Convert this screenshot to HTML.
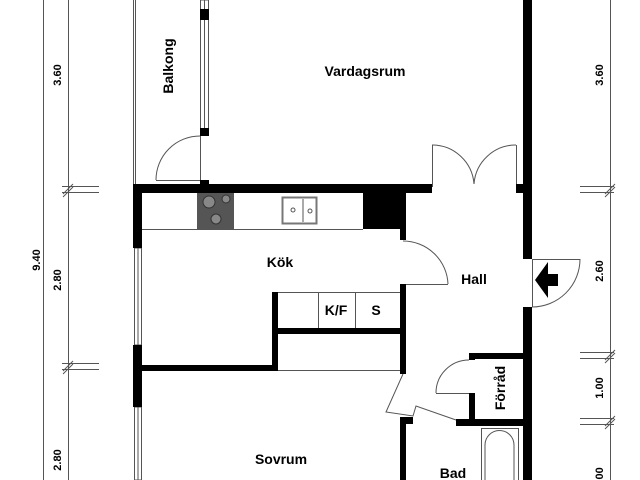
<!DOCTYPE html>
<html><head><meta charset="utf-8"><style>
html,body{margin:0;padding:0;background:#fff;}
svg{display:block}
text{font-family:"Liberation Sans",sans-serif;font-weight:bold;fill:#000}
</style></head><body>
<svg width="640" height="480" viewBox="0 0 640 480" xmlns="http://www.w3.org/2000/svg">
<g stroke="#555" stroke-width="1" fill="none">
<line x1="43.5" y1="0" x2="43.5" y2="480"/>
<line x1="68.5" y1="0" x2="68.5" y2="480"/>
<line x1="62" y1="186.5" x2="99" y2="186.5"/><line x1="62" y1="192.5" x2="99" y2="192.5"/>
<line x1="62" y1="363.5" x2="99" y2="363.5"/><line x1="62" y1="369.5" x2="99" y2="369.5"/>
<line x1="63" y1="194" x2="73" y2="184"/><line x1="63" y1="197" x2="73" y2="187"/>
<line x1="63" y1="371" x2="73" y2="361"/><line x1="63" y1="374" x2="73" y2="364"/>
<line x1="610.5" y1="0" x2="610.5" y2="480"/>
<line x1="580" y1="186.5" x2="614" y2="186.5"/><line x1="580" y1="192.5" x2="614" y2="192.5"/>
<line x1="580" y1="352.5" x2="614" y2="352.5"/><line x1="580" y1="358.5" x2="614" y2="358.5"/>
<line x1="580" y1="418.5" x2="614" y2="418.5"/><line x1="580" y1="424.5" x2="614" y2="424.5"/>
<line x1="605" y1="194" x2="615" y2="184"/><line x1="605" y1="197" x2="615" y2="187"/>
<line x1="605" y1="360" x2="615" y2="350"/><line x1="605" y1="363" x2="615" y2="353"/>
<line x1="605" y1="426" x2="615" y2="416"/><line x1="605" y1="429" x2="615" y2="419"/>
<line x1="133.5" y1="0" x2="133.5" y2="184"/><line x1="135.5" y1="0" x2="135.5" y2="184"/>
<rect x="200.5" y="0" width="8" height="135"/><line x1="204.5" y1="0" x2="204.5" y2="135"/>
<line x1="156" y1="180.5" x2="200" y2="180.5"/><line x1="200.5" y1="136" x2="200.5" y2="181"/>
<path d="M156,180 A44,44 0 0 1 200,136"/>
<rect x="134.5" y="248" width="7" height="97"/><line x1="138" y1="248" x2="138" y2="345"/>
<rect x="134.5" y="407" width="7" height="73"/><line x1="138" y1="407" x2="138" y2="480"/>
<line x1="142" y1="229.5" x2="363" y2="229.5"/>
<rect x="282.5" y="197.5" width="34" height="26" stroke="#777" stroke-width="2"/>
<line x1="303" y1="199" x2="303" y2="222"/>
<circle cx="293" cy="210" r="2"/><circle cx="310" cy="211" r="2"/>
<line x1="277" y1="292.5" x2="400" y2="292.5"/>
<line x1="318.5" y1="292" x2="318.5" y2="328"/><line x1="355.5" y1="292" x2="355.5" y2="328"/>
<line x1="277" y1="370.5" x2="400" y2="370.5"/>
<line x1="400" y1="284.5" x2="448" y2="284.5"/><path d="M403,241 A45,45 0 0 1 448,284"/>
<line x1="432.5" y1="145" x2="432.5" y2="187"/><line x1="516.5" y1="145" x2="516.5" y2="187"/>
<path d="M432,145 A42,42 0 0 1 474,184"/><path d="M516,145 A42,42 0 0 0 474,184"/>
<line x1="532" y1="259.5" x2="580" y2="259.5"/><line x1="532.5" y1="259" x2="532.5" y2="307"/>
<path d="M580,259 A48,48 0 0 1 532,307"/>
<line x1="436" y1="393.5" x2="469" y2="393.5"/><path d="M436,393 A33,33 0 0 1 469,360"/>
<polyline points="403,374 386,412 413,416 416,406 456,420"/>
<rect x="481.5" y="428.5" width="37" height="60"/>
<path d="M485,480 V445 A14,14 0 0 1 514,445 V480"/>
</g>
<g fill="#000">
<rect x="200" y="9" width="9" height="11"/><rect x="200" y="128" width="9" height="8"/>
<rect x="200" y="180" width="9" height="8"/>
<rect x="133" y="184" width="299" height="9"/>
<rect x="133" y="184" width="9" height="64"/>
<rect x="133" y="345" width="9" height="62"/>
<rect x="363" y="193" width="43" height="36"/>
<rect x="400" y="184" width="6" height="56"/>
<rect x="400" y="284" width="6" height="90"/>
<rect x="272" y="292" width="6" height="79"/>
<rect x="277" y="328" width="123" height="6"/>
<rect x="142" y="365" width="136" height="6"/>
<rect x="516" y="184" width="16" height="9"/>
<rect x="523" y="0" width="9" height="259"/>
<rect x="523" y="307" width="9" height="173"/>
<rect x="469" y="353" width="54" height="6"/>
<rect x="469" y="353" width="6" height="7"/>
<rect x="469" y="393" width="6" height="27"/>
<rect x="456" y="419" width="67" height="7"/>
<rect x="400" y="417" width="6" height="63"/><rect x="400" y="417" width="13" height="7"/>
<polygon points="535,280 548,262 548,274 558,274 558,286 548,286 548,298"/>
</g>
<rect x="197" y="193" width="37" height="36" fill="#555"/>
<g fill="#888" stroke="#333" stroke-width="1">
<circle cx="209" cy="202" r="6"/><circle cx="226" cy="199" r="4"/><circle cx="216" cy="219" r="5"/>
</g>
<text x="365" y="76" font-size="14" text-anchor="middle">Vardagsrum</text>
<text x="280" y="267" font-size="14" text-anchor="middle">Kök</text>
<text x="474" y="284" font-size="14" text-anchor="middle">Hall</text>
<text x="336" y="315" font-size="14" text-anchor="middle">K/F</text>
<text x="376" y="315" font-size="14" text-anchor="middle">S</text>
<text x="281" y="464" font-size="14" text-anchor="middle">Sovrum</text>
<text x="453" y="478" font-size="14" text-anchor="middle">Bad</text>
<text transform="translate(173,66) rotate(-90)" font-size="14" text-anchor="middle">Balkong</text>
<text transform="translate(505,388) rotate(-90)" font-size="14" text-anchor="middle">Förråd</text>
<text transform="translate(40,260) rotate(-90)" font-size="11" text-anchor="middle">9.40</text>
<text transform="translate(61,75) rotate(-90)" font-size="11" text-anchor="middle">3.60</text>
<text transform="translate(61,280) rotate(-90)" font-size="11" text-anchor="middle">2.80</text>
<text transform="translate(61,460) rotate(-90)" font-size="11" text-anchor="middle">2.80</text>
<text transform="translate(603,75) rotate(-90)" font-size="11" text-anchor="middle">3.60</text>
<text transform="translate(603,271) rotate(-90)" font-size="11" text-anchor="middle">2.60</text>
<text transform="translate(603,388) rotate(-90)" font-size="11" text-anchor="middle">1.00</text>
<text transform="translate(603,478) rotate(-90)" font-size="11" text-anchor="middle">2.00</text>
</svg>
</body></html>
